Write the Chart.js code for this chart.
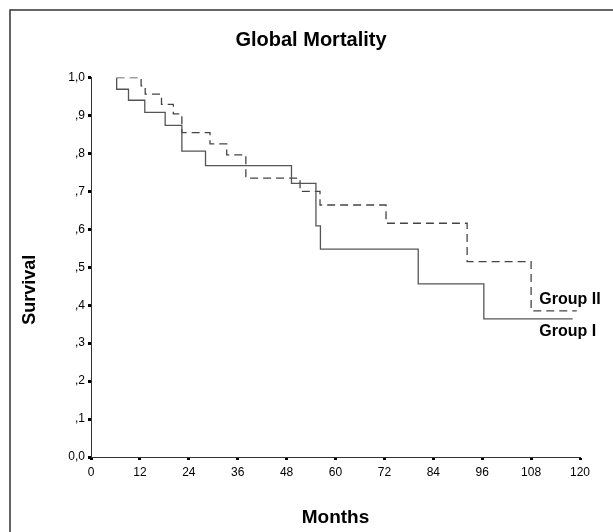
<!DOCTYPE html>
<html>
<head>
    <meta charset="UTF-8">
    <title>Global Mortality</title>
    <script src="https://cdn.jsdelivr.net/npm/chart.js"></script>
    <style>
        html, body { margin: 0; padding: 0; background: #fff; }
        #wrap { position: relative; width: 613px; height: 532px; }
    </style>
</head>
<body>

<div id="wrap"><canvas id="kmChart"></canvas></div>

<script>
    // Kaplan-Meier steps (months, cumulative survival)
    var groupNames = ['Group I', 'Group II'];

    var timesGroup1 = [6.3, 6.3, 9.2, 13.2, 18.2, 22.3, 28.1, 49.2, 55.2, 56.3, 80.3, 96.4, 118.2];
    var survGroup1  = [1.0, 0.969, 0.940, 0.908, 0.874, 0.806, 0.768, 0.721, 0.609, 0.548, 0.456, 0.364, 0.364];

    var timesGroup2 = [6.3, 12.3, 13.3, 17.3, 20.2, 22.3, 29.2, 33.3, 38.0, 51.3, 56.2, 72.4, 92.3, 108.0, 119.2];
    var survGroup2  = [1.0, 0.978, 0.956, 0.929, 0.904, 0.855, 0.825, 0.796, 0.735, 0.700, 0.664, 0.616, 0.515, 0.385, 0.385];

    var xTickValues = [0, 12, 24, 36, 48, 60, 72, 84, 96, 108, 120];
    var yTickLabels = ['0,0', ',1', ',2', ',3', ',4', ',5', ',6', ',7', ',8', ',9', '1,0'];

    function toPoints(times, surv) {
        return times.map(function (t, i) { return { x: t, y: surv[i] }; });
    }

    var fontFamily = '"Liberation Sans", Arial, Helvetica, sans-serif';

    // outer frame around the whole figure
    var framePlugin = {
        id: 'frame',
        beforeDraw: function (chart) {
            var ctx = chart.ctx;
            ctx.save();
            ctx.fillStyle = '#fff';
            ctx.fillRect(0, 0, chart.width, chart.height);
            ctx.strokeStyle = '#333';
            ctx.lineWidth = 1.5;
            ctx.strokeRect(10, 10, chart.width + 20, chart.height + 20);
            ctx.restore();
        }
    };

    // "Group I" / "Group II" labels next to the curve ends
    var groupLabelPlugin = {
        id: 'groupLabels',
        afterDatasetsDraw: function (chart) {
            var ctx = chart.ctx;
            var xs = chart.scales.x, ys = chart.scales.y;
            ctx.save();
            ctx.fillStyle = '#000';
            ctx.font = 'bold 16px ' + fontFamily;
            ctx.textAlign = 'left';
            ctx.textBaseline = 'alphabetic';
            var lx = xs.getPixelForValue(110);
            var y1 = ys.getPixelForValue(survGroup1[survGroup1.length - 1]);
            var y2 = ys.getPixelForValue(survGroup2[survGroup2.length - 1]);
            ctx.fillText(groupNames[1], lx, y2 - 7);
            ctx.fillText(groupNames[0], lx, y1 + 17);
            ctx.restore();
        }
    };

    new Chart('kmChart', {
        type: 'line',
        data: {
            datasets: [
                {
                    label: groupNames[0],
                    data: toPoints(timesGroup1, survGroup1),
                    stepped: 'before',
                    borderColor: '#555',
                    borderWidth: 1.3,
                    pointRadius: 0,
                    fill: false
                },
                {
                    label: groupNames[1],
                    data: toPoints(timesGroup2, survGroup2),
                    stepped: 'before',
                    borderColor: '#444',
                    borderWidth: 1.3,
                    borderDash: [8, 5],
                    pointRadius: 0,
                    fill: false
                }
            ]
        },
        options: {
            responsive: true,
            maintainAspectRatio: false,
            animation: false,
            layout: { padding: { left: 9, right: 0, top: 0, bottom: 0 } },
            plugins: {
                legend: { display: false },
                tooltip: { enabled: false },
                title: {
                    display: true,
                    text: 'Global Mortality',
                    color: '#000',
                    font: { family: fontFamily, size: 20, weight: 'bold' },
                    padding: { top: 28, bottom: 25.5 }
                }
            },
            scales: {
                x: {
                    type: 'linear',
                    min: 0,
                    max: 120,
                    afterBuildTicks: function (scale) {
                        scale.ticks = xTickValues.map(function (v) { return { value: v }; });
                    },
                    afterFit: function (scale) { scale.height = 75; },
                    grid: {
                        drawOnChartArea: false,
                        drawTicks: true,
                        tickLength: 3,
                        tickWidth: 3,
                        tickColor: '#000'
                    },
                    border: { display: true, color: '#333', width: 1 },
                    ticks: {
                        color: '#000',
                        padding: 5,
                        maxRotation: 0,
                        autoSkip: false,
                        font: { family: fontFamily, size: 12 }
                    },
                    title: {
                        display: true,
                        text: 'Months',
                        color: '#000',
                        font: { family: fontFamily, size: 19, weight: 'bold' },
                        padding: { top: 0, bottom: 3 }
                    }
                },
                y: {
                    min: 0,
                    max: 1,
                    afterFit: function (scale) { scale.width = 82; },
                    grid: {
                        drawOnChartArea: false,
                        drawTicks: true,
                        tickLength: 3,
                        tickWidth: 3,
                        tickColor: '#000'
                    },
                    border: { display: true, color: '#333', width: 1 },
                    ticks: {
                        stepSize: 0.1,
                        color: '#000',
                        padding: 3,
                        autoSkip: false,
                        font: { family: fontFamily, size: 12 },
                        callback: function (value, index) { return yTickLabels[index]; }
                    },
                    title: {
                        display: true,
                        // trailing spaces push the rotated title down, as in the original
                        text: 'Survival' + '\u00a0'.repeat(9),
                        color: '#000',
                        font: { family: fontFamily, size: 18, weight: 'bold' },
                        padding: { top: 10, bottom: 0 }
                    }
                },
                // empty right-hand box that keeps the plot area clear of the labels
                yRight: {
                    position: 'right',
                    display: true,
                    afterFit: function (scale) { scale.width = 33; },
                    grid: { display: false },
                    border: { display: false },
                    ticks: { display: false }
                }
            }
        },
        plugins: [framePlugin, groupLabelPlugin]
    });
</script>

</body>
</html>
